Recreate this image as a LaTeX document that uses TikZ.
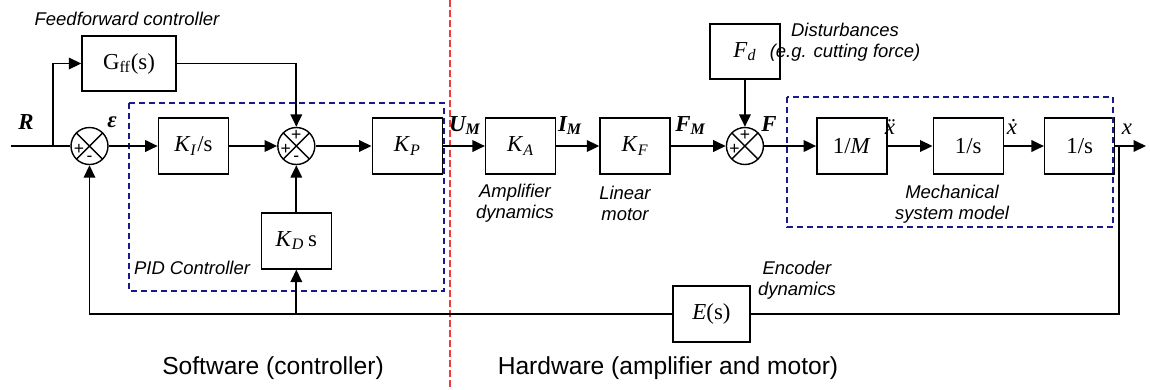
\documentclass[tikz,border=0pt]{standalone}
\usepackage{fontspec}
\setmainfont{Liberation Serif}
\setsansfont{Liberation Sans}
\usetikzlibrary{arrows.meta,positioning}
\definecolor{pidblue}{RGB}{25,25,140}
\definecolor{splitred}{RGB}{240,60,60}
\newcommand{\sbx}[1]{\textsubscript{#1}}
\tikzset{
  blockbox/.style={draw,line width=0.8pt,minimum width=14mm,minimum height=11.2mm,
    inner sep=0pt,font=\fontsize{13}{15}\selectfont},
  sumpt/.style={draw,circle,line width=0.8pt,minimum size=7.4mm,inner sep=0pt,
    path picture={\draw[line width=0.8pt]
      (path picture bounding box.north west) -- (path picture bounding box.south east)
      (path picture bounding box.north east) -- (path picture bounding box.south west);}},
  sgn/.style={font=\sffamily\fontsize{10}{10}\selectfont,inner sep=0pt},
  plusw/.style={label={[sgn,xshift=-2.1mm,yshift=-0.7mm]center:+}},
  plusn/.style={label={[sgn,yshift=2.1mm]center:+}},
  minuss/.style={label={[sgn,yshift=-2.5mm]center:-}},
  arrow/.style={-{Triangle[length=2.5mm,width=2.3mm]},line width=1.1pt},
  conn/.style={line width=1.1pt},
  fbline/.style={line width=0.9pt},
  note/.style={font=\sffamily\itshape\fontsize{10.5}{12}\selectfont,align=center,inner sep=0pt},
  sig/.style={font=\bfseries\itshape\fontsize{13}{15}\selectfont,inner sep=0pt,anchor=base},
  dvar/.style={font=\itshape\fontsize{13}{15}\selectfont,inner sep=0pt,anchor=base},
  part/.style={font=\sffamily\fontsize{14}{16}\selectfont,inner sep=0pt},
  groupbox/.style={draw=pidblue,line width=0.7pt,dash pattern=on 1.2mm off 0.8mm},
  splitline/.style={draw=splitred,line width=0.8pt,dash pattern=on 1.4mm off 0.6mm}
}
\begin{document}
\begin{tikzpicture}
\useasboundingbox (0,0) rectangle (23,-7.78);
% main forward path
\node[sumpt,plusw,minuss] (sum1) at (1.79,-2.92) {};
\node[blockbox,right=9.8mm of sum1] (ki) {\textit{K}\sbx{\textit{I}}/s};
\node[sumpt,plusn,plusw,minuss,right=9.6mm of ki] (sum2) {};
\node[blockbox,right=11.2mm of sum2] (kp) {\textit{K}\sbx{\textit{P}}};
\node[blockbox,right=8.4mm of kp] (ka) {\textit{K}\sbx{\textit{A}}};
\node[blockbox,right=8.6mm of ka] (kf) {\textit{K}\sbx{\textit{F}}};
\node[sumpt,plusn,plusw,right=11mm of kf] (sum3) {};
\node[blockbox,right=10.4mm of sum3] (invm) {1/\textit{M}};
\node[blockbox,right=9mm of invm] (integ1) {1/s};
\node[blockbox,right=8mm of integ1] (integ2) {1/s};
% side blocks
\node[blockbox,minimum width=18.8mm,minimum height=11mm] (gff) at (2.58,-1.27) {G\sbx{ff}(s)};
\node[blockbox,minimum height=11mm,above=9.4mm of sum3] (fd) {\textit{F}\sbx{\textit{d}}};
\node[blockbox,below=9.4mm of sum2] (kd) {\textit{K}\sbx{\textit{D}}\,s};
\node[blockbox,minimum width=15.4mm] (enc) at (14.23,-6.28) {\textit{E}(s)};
\coordinate (in) at (0.22,-2.92);
\coordinate (split) at (1.06,-2.92);
\coordinate (tap) at (22.38,-2.92);
\coordinate (out) at (22.92,-2.92);
% groups and split
\draw[groupbox] (2.58,-2.06) rectangle (8.88,-5.82);
\draw[groupbox] (15.74,-1.94) rectangle (22.26,-4.54);
\draw[splitline] (9.0,0) -- (9.0,-7.78);
% connectors
\draw[conn] (in) -- (sum1.west);
\draw[arrow] (split) |- (gff.west);
\draw[arrow] (sum1) -- (ki);
\draw[arrow] (ki) -- (sum2);
\draw[arrow] (gff.east) -| (sum2.north);
\draw[arrow] (kd) -- (sum2);
\draw[arrow] (sum2) -- (kp);
\draw[arrow] (kp) -- (ka);
\draw[arrow] (ka) -- (kf);
\draw[arrow] (kf) -- (sum3);
\draw[arrow] (fd) -- (sum3);
\draw[arrow] (sum3) -- (invm);
\draw[arrow] (invm) -- (integ1);
\draw[arrow] (integ1) -- (integ2);
\draw[arrow] (integ2) -- (out);
\draw[fbline] (tap) |- (enc.east);
\draw[fbline,arrow] (enc.west) -| (sum1.south);
\draw[arrow] (kd.south |- enc.west) -- (kd.south);
% signal labels
\node[sig] (rlab) at (0.52,-2.58) {R};
\node[sig] (elab) at (2.24,-2.54) {ε};
\node[sig] (umlab) at (9.3,-2.62) {U\sbx{M}};
\node[sig] (imlab) at (11.4,-2.62) {I\sbx{M}};
\node[sig] (fmlab) at (13.81,-2.62) {F\sbx{M}};
\node[sig] (flab) at (15.38,-2.62) {F};
\node[dvar] (acclab) at (17.8,-2.68) {\"x};
\node[dvar] (vellab) at (20.24,-2.68) {\.x};
\node[dvar] (poslab) at (22.54,-2.68) {x};
% notes
\node[note] (ffnote) at (2.54,-0.38) {Feedforward controller};
\node[note] (distnote) at (16.9,-0.85) {Disturbances\\(e.g. cutting force)};
\node[note] (pidnote) at (3.84,-5.36) {PID Controller};
\node[note] (ampnote) at (10.3,-4.07) {Amplifier\\dynamics};
\node[note] (motnote) at (12.5,-4.07) {Linear\\motor};
\node[note] (mechnote) at (19.04,-4.08) {Mechanical\\system model};
\node[note] (encnote) at (15.94,-5.6) {Encoder\\dynamics};
\node[part] (swnote) at (5.46,-7.36) {Software (controller)};
\node[part] (hwnote) at (13.36,-7.36) {Hardware (amplifier and motor)};
\end{tikzpicture}
\end{document}
